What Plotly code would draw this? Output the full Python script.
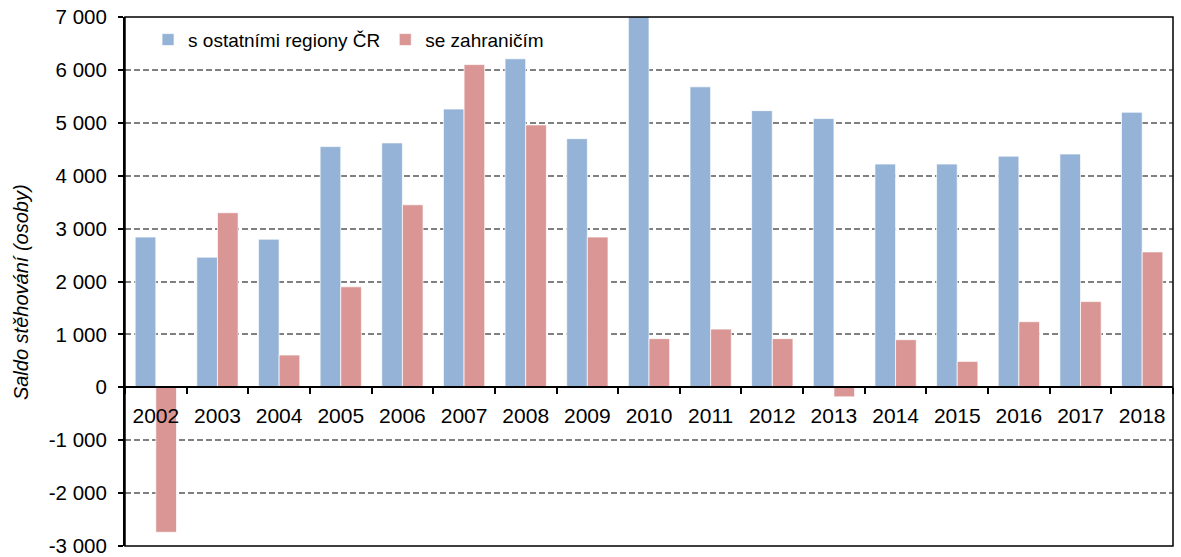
import plotly.graph_objects as go

years = ["2002", "2003", "2004", "2005", "2006", "2007", "2008", "2009", "2010",
         "2011", "2012", "2013", "2014", "2015", "2016", "2017", "2018"]
regions = [2840, 2460, 2800, 4550, 4620, 5260, 6210, 4700, 7150,
           5680, 5230, 5080, 4220, 4220, 4370, 4410, 5200]
abroad = [-2740, 3300, 610, 1900, 3450, 6100, 4960, 2840, 920,
          1100, 920, -180, 900, 490, 1240, 1620, 2560]
name_regions = "s ostatními regiony ČR"
name_abroad = "se zahraničím"
y_tickvals = [-3000, -2000, -1000, 0, 1000, 2000, 3000, 4000, 5000, 6000, 7000]
y_ticktext = ["-3 000", "-2 000", "-1 000", "0", "1 000", "2 000", "3 000",
              "4 000", "5 000", "6 000", "7 000"]
y_title = "Saldo stěhování (osoby)"

FONT = "Liberation Sans, Arial, sans-serif"

fig = go.Figure()
fig.add_trace(go.Bar(x=years, y=regions, name=name_regions,
                     marker=dict(color="#95B3D7", line=dict(color="rgba(255,255,255,0.7)", width=1))))
fig.add_trace(go.Bar(x=years, y=abroad, name=name_abroad,
                     marker=dict(color="#D99694", line=dict(color="rgba(255,255,255,0.7)", width=1))))

fig.update_layout(
    width=1181, height=557,
    margin=dict(l=125, r=8, t=17, b=11, autoexpand=False),
    paper_bgcolor="white", plot_bgcolor="white",
    barmode="group", bargap=0.33, bargroupgap=0.0,
    font=dict(family=FONT, size=20, color="black"),
    showlegend=True,
    legend=dict(orientation="h", x=0.022, xanchor="left", y=0.957, yanchor="middle",
                bgcolor="rgba(0,0,0,0)", font=dict(size=19), itemwidth=30,
                traceorder="normal"),
    xaxis=dict(type="category", anchor="free", position=0.3, automargin=False,
               showline=True, linecolor="black", linewidth=2,
               ticks="outside", ticklen=6, tickwidth=2, tickcolor="black",
               tickson="boundaries", showgrid=False, ticklabelstandoff=9,
               tickfont=dict(size=21), zeroline=False),
    yaxis=dict(range=[-3000, 7000], tickvals=y_tickvals, ticktext=y_ticktext,
               automargin=False, ticklabelstandoff=7, ticklabeloverflow="allow",
               showline=True, linecolor="black", linewidth=2,
               ticks="outside", ticklen=5, tickwidth=1.5, tickcolor="black",
               showgrid=True, gridcolor="#808080", gridwidth=1.5, griddash="6px,3px",
               zeroline=False, tickfont=dict(size=20.5)),
    shapes=[dict(type="rect", xref="paper", yref="paper", x0=0, x1=1, y0=0, y1=1,
                 line=dict(color="black", width=1.5), fillcolor="rgba(0,0,0,0)", layer="above")],
    annotations=[dict(text=y_title, xref="paper", yref="paper", x=-0.0992, y=0.48,
                      xanchor="center", yanchor="middle", textangle=-90, showarrow=False,
                      font=dict(size=20, style="italic"))],
)

fig.write_html("out.html", config={"displayModeBar": False},
               post_script="document.body.style.margin='0';")
